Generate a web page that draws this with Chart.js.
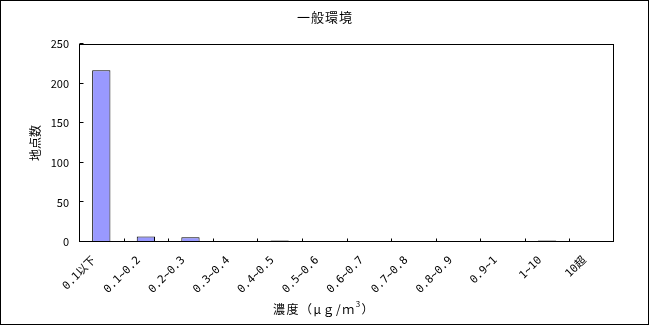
<!DOCTYPE html>
<html>
<head>
<meta charset="utf-8">
<script src="https://cdn.jsdelivr.net/npm/chart.js@4/dist/chart.umd.min.js"></script>
<style>
  html, body { margin: 0; padding: 0; background: #fff; }
  #wrap { width: 649px; height: 325px; position: relative; }
</style>
</head>
<body>
<div id="wrap"><canvas id="c" width="649" height="325"></canvas></div>
<script>
// Number of monitoring sites by concentration range (general environment)
const chartTitle = '一般環境';
const categories = ['0.1以下', '0.1~0.2', '0.2~0.3', '0.3~0.4', '0.4~0.5', '0.5~0.6',
                    '0.6~0.7', '0.7~0.8', '0.8~0.9', '0.9~1', '1~10', '10超'];
const siteCounts = [217, 7, 6, 0, 2, 0, 0, 0, 1, 1, 2, 0];
const yTicks = [0, 50, 100, 150, 200, 250];
const yTitle = '地点数';
const xTitle = '濃度（μｇ/ｍ';
const xTitleSup = '3';
const xTitleEnd = '）';

const FONT = "'Noto Sans CJK JP', 'DejaVu Sans', sans-serif";
const TICK_FONT = "'DejaVu Sans Mono', 'Noto Sans CJK JP', monospace";

// Frame, plot box, inward tick marks, title and x-axis title
const decor = {
  id: 'decor',
  afterDraw(chart) {
    const { ctx, chartArea: a, scales: { x, y } } = chart;
    ctx.save();
    ctx.strokeStyle = '#000';
    ctx.lineWidth = 1;
    // outer frame
    ctx.strokeRect(0.5, 0.5, chart.width - 1, chart.height - 1);
    // plot box
    const L = Math.round(a.left) + 0.5, R = Math.round(a.right) - 0.5;
    const T = Math.round(a.top) + 0.5, B = Math.round(a.bottom) - 0.5;
    ctx.strokeRect(L, T, R - L, B - T);
    // inward ticks
    ctx.beginPath();
    for (let i = 1; i < categories.length; i++) {
      const px = Math.round((x.getPixelForValue(i - 1) + x.getPixelForValue(i)) / 2) + 0.5;
      ctx.moveTo(px, B); ctx.lineTo(px, B - 3);
    }
    yTicks.forEach(v => {
      const py = Math.round(y.getPixelForValue(v)) - 0.5;
      ctx.moveTo(L, py); ctx.lineTo(L + 4, py);
    });
    ctx.stroke();
    // chart title
    ctx.fillStyle = '#000';
    ctx.letterSpacing = '1px';
    ctx.font = '13px ' + FONT;
    ctx.textAlign = 'center';
    ctx.textBaseline = 'middle';
    ctx.fillText(chartTitle, 325, 17);
    // x-axis title with superscript
    ctx.letterSpacing = '1.5px';
    ctx.font = '12px ' + FONT;
    ctx.textAlign = 'left';
    const w1 = ctx.measureText(xTitle).width;
    ctx.font = '8px ' + FONT;
    const w2 = ctx.measureText(xTitleSup).width;
    ctx.font = '12px ' + FONT;
    const w3 = ctx.measureText(xTitleEnd).width;
    let sx = 324 - (w1 + w2 + w3) / 2;
    const ty = 309;
    ctx.fillText(xTitle, sx, ty);
    ctx.font = '8px ' + FONT;
    ctx.fillText(xTitleSup, sx + w1, ty - 5);
    ctx.font = '12px ' + FONT;
    ctx.fillText(xTitleEnd, sx + w1 + w2, ty);
    ctx.restore();
  }
};

new Chart(document.getElementById('c'), {
  type: 'bar',
  data: {
    labels: categories,
    datasets: [{
      data: siteCounts,
      backgroundColor: '#9999FF',
      borderColor: '#000000',
      borderWidth: 1,
      borderSkipped: false,
      barPercentage: 0.41,
      categoryPercentage: 1.0
    }]
  },
  options: {
    responsive: false,
    animation: false,
    events: [],
    layout: { padding: { left: 0, top: 44, right: 35, bottom: 0 } },
    plugins: { legend: { display: false }, tooltip: { enabled: false }, title: { display: false } },
    scales: {
      x: {
        offset: true,
        border: { display: false },
        grid: { display: false, drawTicks: false },
        ticks: {
          color: '#000', font: { family: TICK_FONT, size: 11 },
          minRotation: 45, maxRotation: 45, autoSkip: false, padding: 12, labelOffset: -7
        },
        afterFit(s) { s.height = 83; }
      },
      y: {
        min: 0, max: 250,
        border: { display: false },
        grid: { display: false, drawTicks: false },
        afterBuildTicks(s) { s.ticks = yTicks.map(v => ({ value: v })); },
        ticks: { color: '#000', font: { family: FONT, size: 11 }, padding: 10 },
        title: {
          display: true, text: yTitle, color: '#000',
          font: { family: FONT, size: 12 }, padding: { top: 28, bottom: 0 }
        },
        afterFit(s) { s.width = 79; }
      }
    }
  },
  plugins: [decor]
});
</script>
</body>
</html>
